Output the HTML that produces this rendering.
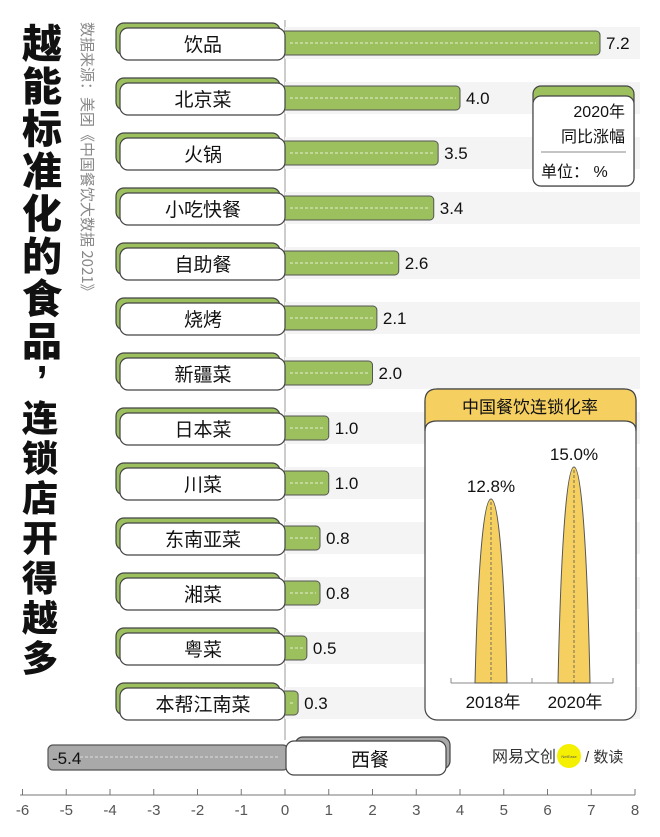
<!DOCTYPE html>
<html><head><meta charset="utf-8"><style>
body{margin:0;background:#fff}
svg text{font-family:"Liberation Sans","Noto Sans CJK SC",sans-serif}
</style></head><body>
<svg width="660" height="832" viewBox="0 0 660 832" xmlns="http://www.w3.org/2000/svg">
<rect width="660" height="832" fill="#fff"/>
<!-- title -->
<g font-size="40" font-weight="900" fill="#111" text-anchor="middle" style="font-family:'Noto Sans CJK SC',sans-serif">
<text x="42" y="58">越</text><text x="42" y="100.5">能</text><text x="42" y="143">标</text><text x="42" y="185.5">准</text><text x="42" y="228">化</text><text x="42" y="270.5">的</text><text x="42" y="313">食</text><text x="42" y="355.5">品</text>
</g>
<text x="42" y="372" font-size="40" font-weight="900" fill="#111" text-anchor="middle">,</text>
<g font-size="36" font-weight="900" fill="#111" text-anchor="middle" style="font-family:'Noto Sans CJK SC',sans-serif">
<text x="40" y="431">连</text><text x="40" y="471">锁</text><text x="40" y="511">店</text><text x="40" y="551">开</text><text x="40" y="591">得</text><text x="40" y="631">越</text><text x="40" y="671">多</text>
</g>
<text transform="translate(82,22) rotate(90)" font-size="15" fill="#888" style="font-family:'Noto Sans CJK SC',sans-serif">数据来源：美团《中国餐饮大数据 2021》</text>

<line x1="285" y1="20" x2="285" y2="740" stroke="#999" stroke-width="1"/>
<g id="rows"></g>

<!-- western -->
<rect x="48" y="745" width="240" height="25" rx="5" fill="#a9a9a9" stroke="#555" stroke-width="1.2"/>
<line x1="80" y1="757" x2="280" y2="757" stroke="#ddd" stroke-dasharray="3,2" stroke-width="1"/>
<text x="52" y="764" font-size="17" fill="#111">-5.4</text>
<rect x="295" y="737" width="155" height="32" rx="8" fill="#a9a9a9" stroke="#444" stroke-width="1.2"/>
<rect x="286" y="741" width="160" height="34" rx="8" fill="#fff" stroke="#444" stroke-width="1.2"/>
<text x="370" y="766" font-size="19" text-anchor="middle" fill="#111">西餐</text>

<!-- axis -->
<line x1="20" y1="795" x2="635" y2="795" stroke="#777" stroke-width="1"/>
<g id="ticks" font-size="15" fill="#555" text-anchor="middle"></g>

<!-- inset unit box -->
<rect x="533" y="86" width="101" height="100" rx="8" fill="#9dc05e" stroke="#444" stroke-width="1.2"/>
<rect x="533" y="96" width="101" height="90" rx="8" fill="#fff" stroke="#444" stroke-width="1.2"/>
<text x="625" y="117" font-size="16" text-anchor="end" fill="#111">2020年</text>
<text x="625" y="142" font-size="16" text-anchor="end" fill="#111">同比涨幅</text>
<line x1="541" y1="152" x2="626" y2="152" stroke="#888" stroke-width="1"/>
<text x="541" y="177" font-size="16" fill="#111">单位： %</text>

<!-- chain rate box -->
<rect x="425" y="389" width="211" height="331" rx="12" fill="#fff" stroke="#444" stroke-width="1.2"/>
<path d="M425 431 L425 401 Q425 389 437 389 L624 389 Q636 389 636 401 L636 431 Q636 421 624 421 L437 421 Q425 421 425 431 Z" fill="#f5d061" stroke="#444" stroke-width="1.2"/>
<text x="530" y="413" font-size="17" text-anchor="middle" fill="#111">中国餐饮连锁化率</text>
<line x1="451" y1="683" x2="613" y2="683" stroke="#888" stroke-width="1"/>
<line x1="451" y1="678" x2="451" y2="683" stroke="#888"/><line x1="532" y1="678" x2="532" y2="683" stroke="#888"/><line x1="613" y1="678" x2="613" y2="683" stroke="#888"/>
<path d="M475 683 C478 560 484 499 491 499 C498 499 504 560 507 683 Z" fill="#f5d061" stroke="#555" stroke-width="1"/>
<path d="M558 683 C561 540 567 467 574 467 C581 467 587 540 590 683 Z" fill="#f5d061" stroke="#555" stroke-width="1"/>
<line x1="491" y1="502" x2="491" y2="683" stroke="#555" stroke-dasharray="3,2" stroke-width="0.8"/>
<line x1="574" y1="470" x2="574" y2="683" stroke="#555" stroke-dasharray="3,2" stroke-width="0.8"/>
<text x="491" y="492" font-size="17" text-anchor="middle" fill="#111">12.8%</text>
<text x="574" y="460" font-size="17" text-anchor="middle" fill="#111">15.0%</text>
<text x="493" y="708" font-size="17" text-anchor="middle" fill="#111">2018年</text>
<text x="575" y="708" font-size="17" text-anchor="middle" fill="#111">2020年</text>

<!-- logo -->
<text x="492" y="762" font-size="16" fill="#333">网易文创</text>
<circle cx="569" cy="756" r="12" fill="#f5f000"/>
<text x="569" y="758" font-size="4" text-anchor="middle" fill="#555">NetEase</text>
<text x="585" y="762" font-size="15" fill="#333">/ 数读</text>

<script>
var ns="http://www.w3.org/2000/svg";
function el(p,t,a,txt){var e=document.createElementNS(ns,t);for(var k in a)e.setAttribute(k,a[k]);if(txt!==undefined)e.textContent=txt;p.appendChild(e);return e;}
var rows=document.getElementById('rows');
var names=["饮品","北京菜","火锅","小吃快餐","自助餐","烧烤","新疆菜","日本菜","川菜","东南亚菜","湘菜","粤菜","本帮江南菜"];
var vals=[7.2,4.0,3.5,3.4,2.6,2.1,2.0,1.0,1.0,0.8,0.8,0.5,0.3];
for(var i=0;i<13;i++){
 var c=43+55*i;
 el(rows,'rect',{x:285,y:c-16,width:355,height:32,fill:'#f4f4f4'});
 var w=vals[i]*43.75;
 el(rows,'rect',{x:281,y:c-12,width:w+4,height:24,rx:4,fill:'#9dc05e',stroke:'#555','stroke-width':1});
 el(rows,'line',{x1:290,y1:c,x2:281+w,y2:c,stroke:'#e3eed0','stroke-dasharray':'3,2','stroke-width':1});
 el(rows,'text',{x:285+w+6,y:c+6,'font-size':17,fill:'#111'},vals[i].toFixed(1));
 el(rows,'rect',{x:116,y:c-20,width:164,height:32,rx:8,fill:'#9dc05e',stroke:'#444','stroke-width':1.2});
 el(rows,'rect',{x:120,y:c-15,width:165,height:32,rx:8,fill:'#fff',stroke:'#444','stroke-width':1.2});
 el(rows,'text',{x:203,y:c+8,'font-size':19,'text-anchor':'middle',fill:'#111'},names[i]);
}
var tk=document.getElementById('ticks');
for(var v=-6;v<=8;v++){var x=285+v*43.75;
 el(tk,'line',{x1:x,y1:789,x2:x,y2:795,stroke:'#777','stroke-width':1});
 el(tk,'text',{x:x,y:815},String(v));}
</script>
</svg>
</body></html>
